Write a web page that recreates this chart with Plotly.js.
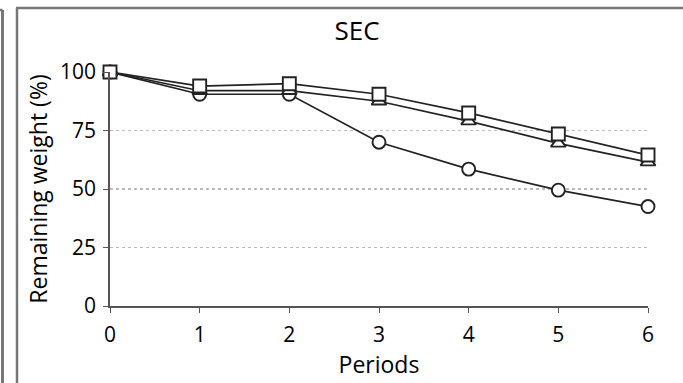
<!DOCTYPE html>
<html><head><meta charset="utf-8">
<script src="https://cdn.plot.ly/plotly-3.0.1.min.js"></script>
<style>html,body{margin:0;padding:0;background:#fff}#c{width:683px;height:383px}</style>
</head><body><div id="c"></div>
<script>
const periods = [0, 1, 2, 3, 4, 5, 6];
const seriesSquare = [100, 94, 95, 90.5, 82.5, 73.5, 64.5];
const seriesTriangle = [100, 92, 92, 87.5, 79, 69.5, 61.5];
const seriesCircle = [100, 90.5, 90.5, 70, 58.5, 49.5, 42.5];
const yTicks = [0, 25, 50, 75, 100];

const L = 110, R = 35, T = 72, B = 77, W = 683, H = 383;
const pw = W - L - R, ph = H - T - B;
const px = x => (x - L) / pw;
const py = y => (H - B - y) / ph;

function tr(y, sym) {
  return {x: periods, y: y, mode: 'lines+markers', type: 'scatter', cliponaxis: false,
    line: {color: '#222', width: 1.7},
    marker: {symbol: sym, size: 13, color: '#fff', line: {width: 1.9, color: '#222'}},
    showlegend: false};
}
const data = [
  tr(seriesCircle, 'circle'),
  tr(seriesTriangle, 'triangle-up'),
  tr(seriesSquare, 'square')
];
const gray = '#777';
const layout = {
  width: W, height: H,
  margin: {l: L, r: R, t: T, b: B},
  paper_bgcolor: '#fff', plot_bgcolor: '#fff',
  font: {family: 'Open Sans, sans-serif', color: '#000'},
  title: {text: 'SEC', x: 357 / W, xanchor: 'center', y: 1 - 31 / H, yanchor: 'middle', font: {size: 26, color: '#000'}},
  xaxis: {range: [0, 6], tickvals: periods, ticktext: periods.map(String), ticks: 'outside', ticklen: 5, tickcolor: '#555',
    ticklabelstandoff: 4,
    showline: true, linecolor: '#555', linewidth: 1.8, showgrid: false, zeroline: false,
    tickfont: {size: 21}, title: {text: 'Periods', font: {size: 23}, standoff: 2}},
  yaxis: {range: [0, 100], tickvals: yTicks, ticks: 'outside', ticklen: 5, tickcolor: '#555',
    ticklabelstandoff: 3,
    showline: true, linecolor: '#555', linewidth: 1.8, showgrid: true, gridcolor: '#bbb', griddash: 'dot', gridwidth: 1.2,
    zeroline: false, tickfont: {size: 21}, title: {text: 'Remaining weight (%)', font: {size: 23}, standoff: 6}},
  shapes: [
    {type: 'line', xref: 'paper', yref: 'paper', x0: px(17), x1: px(17), y0: py(8), y1: py(400), line: {color: gray, width: 2.5}},
    {type: 'line', xref: 'paper', yref: 'paper', x0: px(16), x1: px(690), y0: py(8), y1: py(8), line: {color: gray, width: 2.5}},
    {type: 'line', xref: 'paper', yref: 'paper', x0: px(2.5), x1: px(2.5), y0: py(10), y1: py(400), line: {color: gray, width: 3}},
    {type: 'line', xref: 'paper', yref: 'paper', x0: px(-5), x1: px(2.5), y0: py(10), y1: py(10), line: {color: gray, width: 2.5}}
  ]
};
Plotly.newPlot('c', data, layout, {displayModeBar: false, staticPlot: true});
</script></body></html>
